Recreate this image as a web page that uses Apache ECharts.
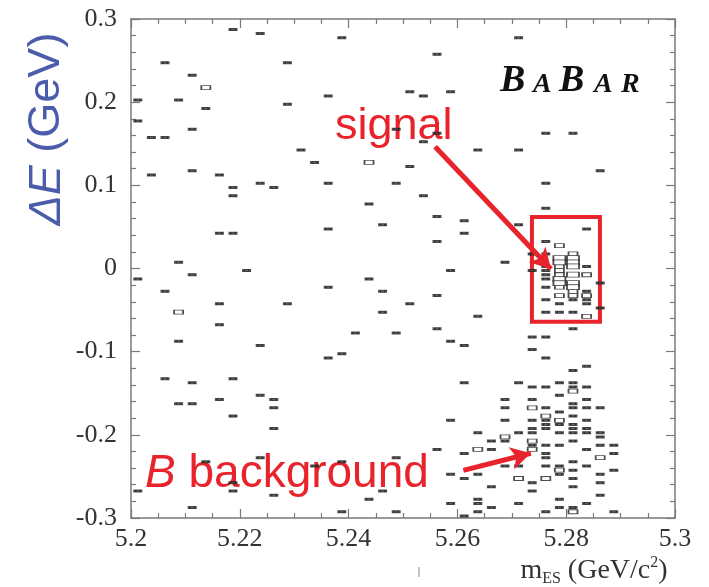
<!DOCTYPE html>
<html><head><meta charset="utf-8">
<script src="https://cdn.jsdelivr.net/npm/echarts@6/dist/echarts.min.js"></script>
<style>html,body{margin:0;padding:0;background:#fff}#c{width:709px;height:587px}</style>
</head><body><div id="c"></div>
<script>
// m_ES bin centres (GeV/c^2), 0.0025 wide
const mesBins = [5.20125,5.20375,5.20625,5.20875,5.21125,5.21375,5.21625,5.21875,5.22125,5.22375,
  5.22625,5.22875,5.23125,5.23375,5.23625,5.23875,5.24125,5.24375,5.24625,5.24875,
  5.25125,5.25375,5.25625,5.25875,5.26125,5.26375,5.26625,5.26875,5.27125,5.27375,
  5.27625,5.27875,5.28125,5.28375,5.28625,5.28875];
// ΔE (GeV) of cells holding one event, one list per m_ES bin
const singleDE = [
  [0.2025,0.1775,-0.0125,-0.2675],
  [0.1575,0.1125],
  [0.2475,0.1575,-0.0275,-0.1325],
  [0.2025,0.0075,-0.0875,-0.1625],
  [0.2325,0.1675,0.1175,-0.0075,-0.1375,-0.1625,-0.2875],
  [0.1925,-0.2325],
  [0.1125,0.0425,-0.0425,-0.0675,-0.1575],
  [0.2875,0.0975,0.0875,0.0425,-0.1325,-0.1775,-0.2575,-0.2675],
  [-0.0025],
  [0.2825,0.1025,-0.0925,-0.1525,-0.2275],
  [0.0975,-0.1575,-0.1675,-0.1925,-0.2725],
  [0.2475,0.1975,-0.0425],
  [0.1425],
  [0.1275,-0.2375],
  [0.2075,0.1025,0.0475,-0.0225,-0.1075],
  [0.2775,-0.1025,-0.2325,-0.2925],
  [-0.0775],
  [0.0775,-0.0125,-0.2775],
  [0.0525,-0.0275,-0.0525,-0.2675],
  [0.1675,0.1025,-0.0775,-0.2275,-0.2925],
  [0.2125,0.1225,-0.0425],
  [0.2075,0.1525,0.0875],
  [0.2575,0.1625,0.0625,0.0325,-0.0325,-0.0725,-0.2175],
  [0.2125,-0.0025,-0.0875,-0.1825,-0.2475,-0.2825],
  [0.0575,0.0425,-0.0925,-0.1375,-0.2225,-0.2525,-0.2975],
  [0.1425,-0.0575,-0.1975,-0.2475,-0.2775,-0.2825,-0.2925],
  [-0.2075,-0.2175,-0.2625,-0.2875],
  [0.0075,-0.1575,-0.1675,-0.1825,-0.2075,-0.2375],
  [0.2775,0.1425,0.0525,-0.1375,-0.1975,-0.2375,-0.2825],
  [0.0175,-0.0025,-0.0825,-0.0975,-0.1425,-0.1575,-0.1825,-0.1925,-0.1975,-0.2125,-0.2575,-0.2675],
  [0.1625,0.1025,0.0725,0.0325,0.0175,0.0025,-0.0025,-0.0075,-0.0125,-0.0225,-0.0375,-0.0525,-0.0825,-0.1075,-0.1425,-0.1675,-0.1825,-0.1875,-0.1925,-0.2125,-0.2225,-0.2275,-0.2375,-0.2925],
  [-0.0425,-0.0525,-0.1375,-0.1525,-0.1725,-0.1875,-0.1975,-0.2125,-0.2375,-0.2475,-0.2775,-0.2875],
  [0.1625,-0.0375,-0.0525,-0.0725,-0.1225,-0.1375,-0.1425,-0.1625,-0.1675,-0.1775,-0.1875,-0.1925,-0.1975,-0.2075,-0.2325,-0.2425,-0.2525,-0.2625,-0.2875],
  [0.0475,0.0025,-0.0275,-0.0375,-0.0425,-0.1175,-0.1425,-0.1575,-0.1675,-0.1825,-0.1925,-0.1975,-0.2175,-0.2375,-0.2825],
  [0.1175,-0.0175,-0.0475,-0.1675,-0.1975,-0.2025,-0.2125,-0.2475,-0.2575,-0.2725],
  [-0.2125,-0.2225,-0.2425,-0.2925]
];
// cells holding two events [m_ES, ΔE]
const doubleCells = [
  [5.20875,-0.0525],[5.21375,0.2175],[5.24375,0.1275],[5.26375,-0.2175],[5.26875,-0.2025],
  [5.27125,-0.2525],[5.27375,-0.1675],[5.27375,-0.2075],[5.27375,-0.2175],
  [5.27625,-0.1775],[5.27625,-0.2525],
  [5.27875,0.0275],[5.27875,0.0025],[5.27875,-0.0025],[5.27875,-0.0075],[5.27875,-0.0225],
  [5.27875,-0.0325],[5.27875,-0.1825],[5.27875,-0.2425],
  [5.28125,0.0175],[5.28125,-0.0275],[5.28125,-0.0325],[5.28125,-0.1475],[5.28125,-0.2925],
  [5.28375,-0.0075],[5.28375,-0.0325],[5.28375,-0.0575],[5.28625,-0.2275]
];
// cells holding three events [m_ES, ΔE]
const tripleCells = [
  [5.27875,0.0125],[5.27875,0.0075],[5.27875,-0.0125],[5.27875,-0.0175],
  [5.28125,0.0125],[5.28125,0.0075],[5.28125,0.0025],[5.28125,-0.0075],[5.28125,-0.0175],[5.28125,-0.0225]
];
// annotations in data coordinates
const signalBox = [[5.2737, 0.062], [5.2862, -0.064]];
const signalArrow = [[5.2559, 0.1464], [5.2772, -0.0005]];
const bkgArrow = [[5.2611, -0.2428], [5.2735, -0.2222]];

const singles = [];
mesBins.forEach((m, i) => singleDE[i].forEach(d => singles.push([m, d])));

const RED = '#e8232b';
const AXC = '#7a7a7a';
const serif = '"Liberation Serif","Times New Roman",serif';
const sans = '"Liberation Sans",Arial,sans-serif';

function xAxisCfg(pos, labels) {
  return {
    type: 'value', position: pos, min: 5.2, max: 5.3, interval: 0.02,
    axisLine: { show: true, onZero: false, lineStyle: { color: AXC, width: 1.5 } },
    axisTick: { show: true, inside: true, length: 9, lineStyle: { color: AXC, width: 1.2 } },
    minorTick: { show: true, splitNumber: 4, length: 5, lineStyle: { color: AXC, width: 1.2 } },
    splitLine: { show: false }, minorSplitLine: { show: false },
    axisLabel: { show: labels, fontFamily: serif, fontSize: 26, color: '#333', margin: 8,
      formatter: v => String(+v.toFixed(2)) }
  };
}
function yAxisCfg(pos, labels) {
  return {
    type: 'value', position: pos, min: -0.3, max: 0.3, interval: 0.1,
    axisLine: { show: true, onZero: false, lineStyle: { color: AXC, width: 1.5 } },
    axisTick: { show: true, inside: true, length: 9, lineStyle: { color: AXC, width: 1.2 } },
    minorTick: { show: true, splitNumber: 5, length: 5, lineStyle: { color: AXC, width: 1.2 } },
    splitLine: { show: false }, minorSplitLine: { show: false },
    axisLabel: { show: labels, fontFamily: serif, fontSize: 26, color: '#333', margin: 14,
      formatter: v => String(+v.toFixed(1)) }
  };
}

const chart = echarts.init(document.getElementById('c'), null, { renderer: 'canvas' });
const babar = [
  { t: 'B', x: 500, size: 38, y: 81 },
  { t: 'A', x: 533, size: 28, y: 85 },
  { t: 'B', x: 559, size: 38, y: 81 },
  { t: 'A', x: 594, size: 28, y: 85 },
  { t: 'R', x: 621, size: 28, y: 85 }
];
chart.setOption({
  animation: false,
  backgroundColor: '#fff',
  grid: { left: 131, right: 34, top: 19, bottom: 69, containLabel: false },
  xAxis: [xAxisCfg('bottom', true), xAxisCfg('top', false)],
  yAxis: [yAxisCfg('left', true), yAxisCfg('right', false)],
  series: [
    {
      type: 'scatter', name: '1 event', data: singles, symbol: 'rect', symbolSize: [6, 2],
      itemStyle: { color: '#444', borderColor: '#222', borderWidth: 1 },
      markArea: {
        silent: true,
        itemStyle: { color: 'rgba(0,0,0,0)', borderColor: RED, borderWidth: 4 },
        data: [[{ coord: signalBox[0] }, { coord: signalBox[1] }]]
      },
      markLine: {
        silent: true, symbol: ['none', 'arrow'], symbolSize: [17, 20],
        label: { show: false },
        lineStyle: { color: RED, width: 5, type: 'solid' },
        data: [
          [{ coord: signalArrow[0] }, { coord: signalArrow[1] }],
          [{ coord: bkgArrow[0] }, { coord: bkgArrow[1] }]
        ]
      }
    },
    {
      type: 'scatter', name: '2 events', data: doubleCells, symbol: 'rect', symbolSize: [9, 4],
      itemStyle: { color: '#fff', borderColor: '#222', borderWidth: 1.2 }
    },
    {
      type: 'scatter', name: '3 events', data: tripleCells, symbol: 'rect', symbolSize: [12, 5],
      itemStyle: { color: '#fff', borderColor: '#222', borderWidth: 1.2 }
    }
  ],
  graphic: [
    ...babar.map(b => ({
      type: 'text', x: b.x, y: b.y, silent: true,
      style: { text: b.t, font: 'italic bold ' + b.size + 'px ' + serif, fill: '#111',
        textAlign: 'left', textVerticalAlign: 'middle' }
    })),
    { type: 'text', x: 335, y: 127, silent: true,
      style: { text: 'signal', font: '45px ' + sans, fill: RED, textAlign: 'left', textVerticalAlign: 'middle' } },
    { type: 'text', x: 145, y: 474, silent: true,
      style: { text: '{i|B} background', font: '46px ' + sans, fill: RED, textAlign: 'left', textVerticalAlign: 'middle',
        rich: { i: { fontStyle: 'italic', fontSize: 46, fontFamily: sans, fill: RED } } } },
    { type: 'text', x: 47, y: 129, rotation: Math.PI / 2, silent: true,
      style: { text: '{i|ΔE} (GeV)', font: '45px ' + sans, fill: '#4b5cab', textAlign: 'center', textVerticalAlign: 'middle',
        rich: { i: { fontStyle: 'italic', fontSize: 45, fontFamily: sans, fill: '#4b5cab' } } } },
    { type: 'text', x: 594, y: 571, silent: true,
      style: { text: '{m|m}{s|ES}{m| (GeV/c}{p|2}{m|)}', fill: '#333', textAlign: 'center', textVerticalAlign: 'middle',
        rich: {
          m: { fontFamily: serif, fontSize: 28, lineHeight: 32, fill: '#333' },
          s: { fontFamily: serif, fontSize: 16, lineHeight: 14, verticalAlign: 'bottom', fill: '#333' },
          p: { fontFamily: serif, fontSize: 16, lineHeight: 14, verticalAlign: 'top', fill: '#333' }
        } } },
    { type: 'line', silent: true, shape: { x1: 419, y1: 567, x2: 419, y2: 577 },
      style: { stroke: '#888', lineWidth: 1 } }
  ]
});
</script></body></html>
